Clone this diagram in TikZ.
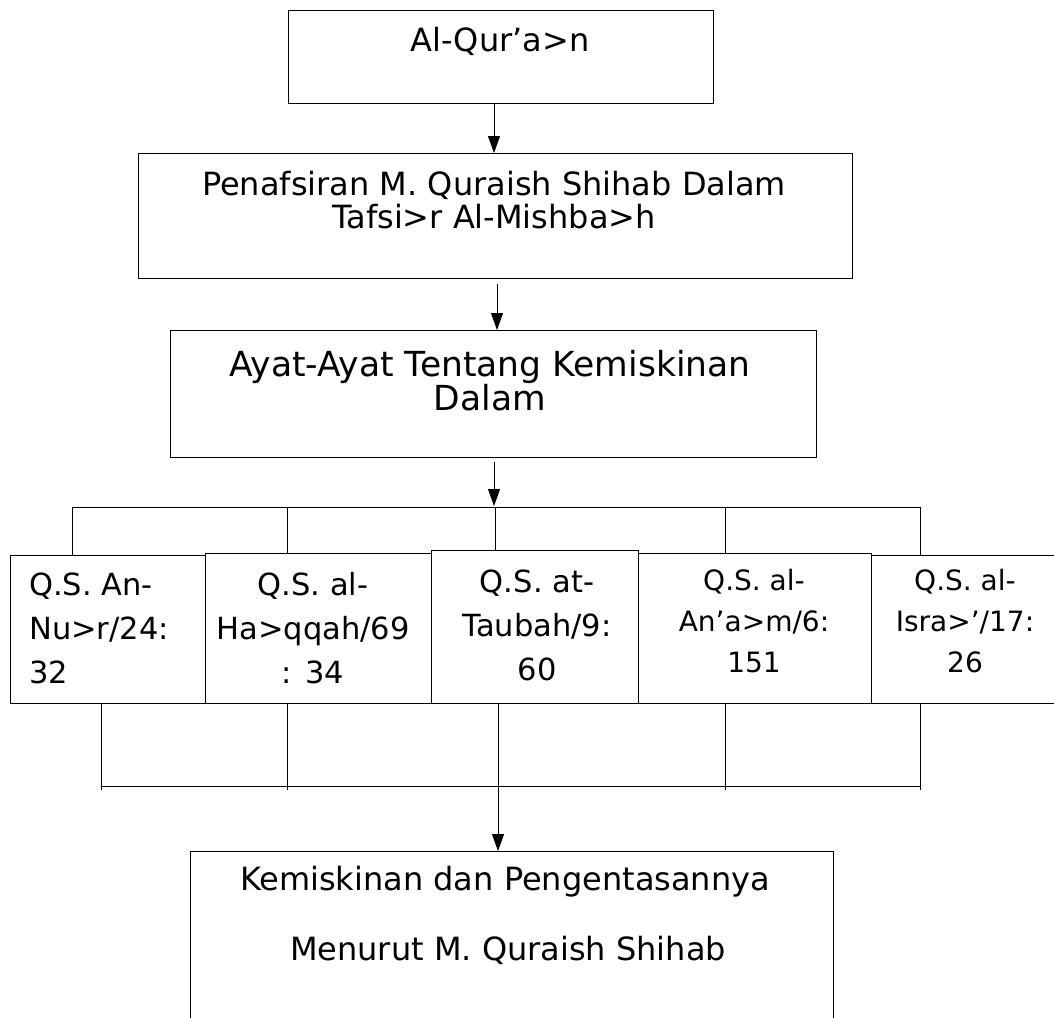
\documentclass[tikz,border=0pt]{standalone}
\usepackage{fontspec}
\setmainfont{DejaVu Sans}
\usetikzlibrary{arrows.meta}
\begin{document}
\begin{tikzpicture}[x=1pt,y=-1pt,
  box/.style={draw, line width=0.9pt},
  ln/.style={line width=0.8pt},
  arr/.style={line width=0.8pt, -{Triangle[length=17pt,width=12pt]}},
  txt/.style={inner sep=0pt, align=center, font=\fontsize{32}{33}\selectfont},
  txtb/.style={inner sep=0pt, align=center, font=\fontsize{34.5}{34}\selectfont},
  txtr/.style={inner sep=0pt, align=center, font=\fontsize{30.5}{44}\selectfont},
  txts/.style={inner sep=0pt, align=center, font=\fontsize{28}{41}\selectfont}]
\useasboundingbox (0,0) rectangle (1054,1017);
\clip (0,0) rectangle (1054,1017);
% top boxes
\draw[box] (288,10) rectangle (713,103);
\coordinate (b1s) at (494,103);
\node[txt] (t1) at (500,41) {Al-Qur’a>n};
\draw[box] (138,153) rectangle (852,278);
\coordinate (b2n) at (494,153);
\coordinate (b2s) at (497,284);
\node[txt] (t2) at (494,200) {Penafsiran M. Quraish Shihab Dalam\\Tafsi>r Al-Mishba>h};
\draw[box] (170,330) rectangle (816,457);
\coordinate (b3n) at (497,330);
\coordinate (b3s) at (494,462);
\node[txtb] (t3) at (490,381) {Ayat-Ayat Tentang Kemiskinan\\Dalam};
\draw[arr] (b1s) -- (b2n);
\draw[arr] (b2s) -- (b3n);
% upper distribution
\coordinate (jt) at (494,506);
\coordinate (hl) at (72,507);
\coordinate (hr) at (920,507);
\draw[arr] (b3s) -- (jt);
\draw[ln] (hl) -- (hr);
% row boxes
\draw[box] (10,555) rectangle (205,703);
\draw[box] (205,553) rectangle (431,703);
\draw[box] (431,550) rectangle (638,703);
\draw[box] (638,553) rectangle (871,703);
\draw[box] (871,555) rectangle (1062,703);
\foreach \x/\yt in {72/555,287/553,495/550,725/553,920/555}
  \draw[ln] (\x,507) -- (\x,\yt);
\node[txtr, align=left, anchor=west] (qa) at (29,628) {Q.S. An-\\Nu>r/24:\\32};
\node[txtr] (qb) at (313,628) {Q.S. al-\\Ha>qqah/69\\: 34};
\node[txtr] (qc) at (537,625) {Q.S. at-\\Taubah/9:\\60};
\node[txts] (qd) at (754,621) {Q.S. al-\\An’a>m/6:\\151};
\node[txts] (qe) at (965,621) {Q.S. al-\\Isra>’/17:\\26};
% lower collection
\foreach \x in {101,287,725,920}
  \draw[ln] (\x,703) -- (\x,790);
\coordinate (ll) at (101,786);
\coordinate (lr) at (920,786);
\draw[ln] (ll) -- (lr);
\coordinate (lc) at (498,703);
\coordinate (bbn) at (498,851);
\draw[arr] (lc) -- (bbn);
% bottom box
\draw[box] (190,851) rectangle (833,1030);
\node[txt] (tb1) at (505,882) {Kemiskinan dan Pengentasannya};
\node[txt] (tb2) at (508,950) {Menurut M. Quraish Shihab};
\end{tikzpicture}
\end{document}
